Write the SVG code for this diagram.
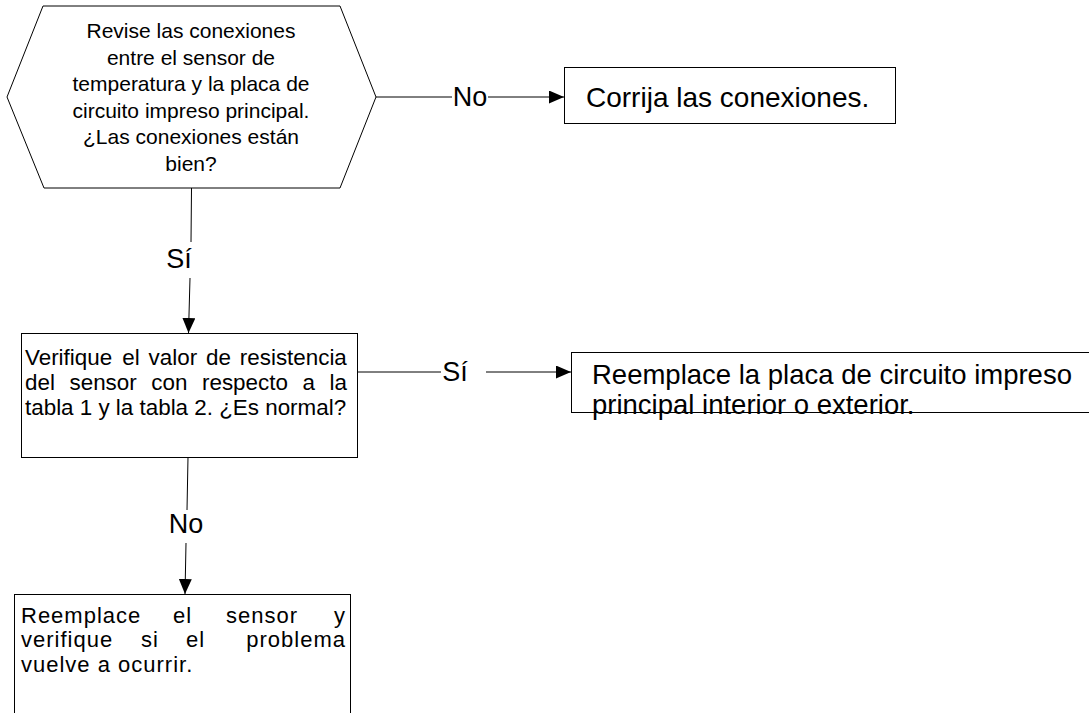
<svg xmlns="http://www.w3.org/2000/svg" width="1089" height="713" viewBox="0 0 1089 713">
<style>
text{font-family:"Liberation Sans",Arial,sans-serif;fill:#000}
.shape{fill:#fff;stroke:#000;stroke-width:1}
.conn{fill:none;stroke:#000;stroke-width:1}
.hex{font-size:21px;text-anchor:middle}
.big{font-size:27.5px}
.lbl{font-size:27px;text-anchor:middle}
.ver{font-size:22.4px}
.sen{font-size:22px;letter-spacing:1px}
.end{text-anchor:end}
</style>
<defs>
<marker id="arr" markerWidth="15" markerHeight="13" refX="15" refY="6.5" orient="auto" markerUnits="userSpaceOnUse"><path d="M0,0 L15,6.5 L0,13 z" fill="#000"/></marker>
</defs>
<g id="connectors">
<path class="conn" d="M376,97 H452"/>
<path class="conn" d="M488,97 H564" marker-end="url(#arr)"/>
<path class="conn" d="M191.5,188 L191,242"/>
<path class="conn" d="M190,278 L188.5,333" marker-end="url(#arr)"/>
<path class="conn" d="M357,372 H441"/>
<path class="conn" d="M486,372 H571" marker-end="url(#arr)"/>
<path class="conn" d="M188,457 L187,510"/>
<path class="conn" d="M186,543 L185,594" marker-end="url(#arr)"/>
<text class="lbl" x="470" y="106">No</text>
<text class="lbl" x="179" y="268">Sí</text>
<text class="lbl" x="455" y="381">Sí</text>
<text class="lbl" x="186" y="533">No</text>
</g>
<g id="node-revise">
<polygon class="shape" points="43,6 340,6 376,97 340,188 44,188 7,97"/>
<text class="hex"><tspan x="191" y="38">Revise las conexiones</tspan><tspan x="191" y="64.5">entre el sensor de</tspan><tspan x="191" y="91">temperatura y la placa de</tspan><tspan x="191" y="117.5">circuito impreso principal.</tspan><tspan x="191" y="144">¿Las conexiones están</tspan><tspan x="191" y="170.5">bien?</tspan></text>
</g>
<g id="node-corrija">
<rect class="shape" x="564.5" y="67.5" width="331" height="56"/>
<text class="big" x="586" y="107" style="font-size:28px">Corrija las conexiones.</text>
</g>
<g id="node-verifique">
<rect class="shape" x="21.5" y="333.5" width="336" height="124"/>
<text class="ver" y="365"><tspan x="25">Verifique</tspan><tspan x="122.3">el</tspan><tspan x="148.6">valor</tspan><tspan x="206">de</tspan><tspan x="239.8">resistencia</tspan></text>
<text class="ver" y="390"><tspan x="25">del</tspan><tspan x="69.5">sensor</tspan><tspan x="151.3">con</tspan><tspan x="202">respecto</tspan><tspan x="302.5">a</tspan><tspan x="329.6">la</tspan></text>
<text class="ver" x="25" y="415">tabla 1 y la tabla 2. ¿Es normal?</text>
</g>
<g id="node-placa">
<rect class="shape" x="571.5" y="352.5" width="530" height="60"/>
<text class="big"><tspan x="592" y="384">Reemplace la placa de circuito impreso</tspan><tspan x="592" y="414">principal interior o exterior.</tspan></text>
</g>
<g id="node-sensor">
<rect class="shape" x="14.5" y="594.5" width="336" height="140"/>
<text class="sen" y="623"><tspan x="21">Reemplace</tspan><tspan x="173">el</tspan><tspan x="226">sensor</tspan></text>
<text class="sen end" x="346" y="623">y</text>
<text class="sen" y="647"><tspan x="21">verifique</tspan><tspan x="141">si</tspan><tspan x="186">el</tspan></text>
<text class="sen end" x="346" y="647">problema</text>
<text class="sen" x="21" y="672">vuelve a ocurrir.</text>
</g>
</svg>
